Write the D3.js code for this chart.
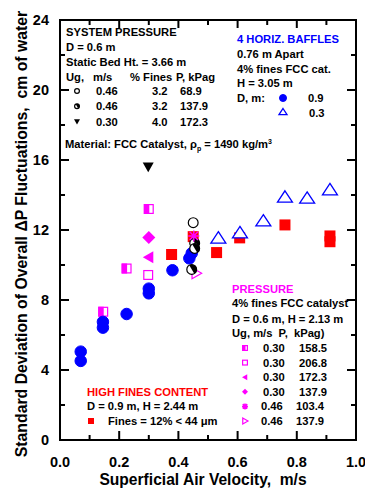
<!DOCTYPE html>
<html><head><meta charset="utf-8">
<script src="https://cdn.jsdelivr.net/npm/d3@7"></script>
<style>
html,body{margin:0;padding:0;background:#fff;}
svg text{font-family:Arial,"Liberation Sans",sans-serif;font-weight:bold;white-space:pre;}
</style></head>
<body><svg id="c" width="365" height="492"></svg>
<script>
// ---- data ----
const xTicks = [0.0, 0.2, 0.4, 0.6, 0.8, 1.0];
const xTickLabels = ["0.0", "0.2", "0.4", "0.6", "0.8", "1.0"];
const yTicks = [0, 4, 8, 12, 16, 20, 24];
const yTickLabels = ["0", "4", "8", "12", "16", "20", "24"];

// 4 horizontal baffles, D = 0.9 m (filled blue circles)
const baffleD09 = [[0.07,5.05],[0.07,4.52],[0.145,6.75],[0.145,6.42],[0.225,7.2],[0.30,8.65],[0.30,8.38],[0.38,9.7],[0.437,10.38],[0.445,10.67]];
// 4 horizontal baffles, D = 0.3 m (open blue triangles)
const baffleD03 = [[0.535,11.53],[0.608,11.83],[0.687,12.51],[0.76,13.87],[0.835,13.81],[0.912,14.29]];
// High fines content (red squares)
const highFines = [[0.377,10.6],[0.45,11.62],[0.529,10.71],[0.607,11.55],[0.76,12.29],[0.912,11.66],[0.912,11.33]];
// System pressure
const sysP689 = [[0.45,12.42]];
const sysP1379 = [[0.455,11.25],[0.455,10.95],[0.445,9.75]];
const sysP1723 = [[0.298,15.62]];
// Pressure series (magenta)
const pr1585 = [[0.146,7.33],[0.225,9.8],[0.30,13.2]];
const pr2068 = [[0.298,9.43]];
const pr1723 = [[0.30,10.44]];
const pr1379 = [[0.30,11.57]];
const pr1034 = [[0.452,11.66]];
const pr1379b = [[0.46,9.53]];

const BLUE = "#0000ff", RED = "#ff0000", MAG = "#ff00ff", BLK = "#000";

// ---- layout ----
const L = 60, R = 356, T = 20, B = 440;
const svg = d3.select("#c");
const x = d3.scaleLinear().domain([0, 1]).range([L, R]);
const y = d3.scaleLinear().domain([0, 24]).range([B, T]);

// minor ticks
const xMinor = d3.range(0.1, 1.0, 0.2);
const yMinor = d3.range(2, 24, 4);
const g = svg.append("g");
function ticks(arr, scale, orient, len){
  arr.forEach(v=>{
    const p = scale(v);
    if(orient==="b") g.append("line").attr("x1",p).attr("x2",p).attr("y1",B).attr("y2",B-len);
    if(orient==="t") g.append("line").attr("x1",p).attr("x2",p).attr("y1",T).attr("y2",T+len);
    if(orient==="l") g.append("line").attr("y1",p).attr("y2",p).attr("x1",L).attr("x2",L+len);
    if(orient==="r") g.append("line").attr("y1",p).attr("y2",p).attr("x1",R).attr("x2",R-len);
  });
}
ticks(xTicks, x, "b", 9); ticks(xMinor, x, "b", 5);
ticks(xTicks, x, "t", 8); ticks(xMinor, x, "t", 5);
ticks(yTicks, y, "l", 9); ticks(yMinor, y, "l", 5);
ticks(yTicks, y, "r", 9); ticks(yMinor, y, "r", 5);
g.selectAll("line").attr("stroke","#000").attr("stroke-width",2);
svg.append("rect").attr("x",L).attr("y",T).attr("width",R-L).attr("height",B-T)
  .attr("fill","none").attr("stroke","#000").attr("stroke-width",2);

// tick labels
svg.selectAll(".xl").data(xTicks).enter().append("text")
  .attr("x",d=>x(d)).attr("y",467).attr("text-anchor","middle")
  .attr("font-size",14.5).text((d,i)=>xTickLabels[i]);
svg.selectAll(".yl").data(yTicks).enter().append("text")
  .attr("x",49).attr("y",d=>y(d)+5).attr("text-anchor","end")
  .attr("font-size",14.5).text((d,i)=>yTickLabels[i]);

// axis titles
svg.append("text").attr("x",203).attr("y",485).attr("text-anchor","middle")
  .attr("font-size",15.6).text("Superficial Air Velocity,  m/s");
svg.append("text").attr("transform","translate(27,234) rotate(-90)").attr("text-anchor","middle")
  .attr("font-size",15.8).text("Standard Deviation of Overall \u0394P Fluctuations,  cm of water");

// ---- marker drawing ----
function marker(sel, type, color, s){
  const h = s/2;
  if(type==="circle"){ sel.append("circle").attr("r",h).attr("fill",color).attr("stroke",color).attr("stroke-width",1); }
  else if(type==="ocircle"){ sel.append("circle").attr("r",h-0.6).attr("fill","#fff").attr("stroke",color).attr("stroke-width",1.2); }
  else if(type==="hcircle"){
    sel.append("circle").attr("r",h-0.6).attr("fill","#fff").attr("stroke",color).attr("stroke-width",1.2);
    sel.append("path").attr("d",`M0,${-(h-0.6)} A${h-0.6},${h-0.6} 0 0 1 0,${h-0.6} Z`).attr("fill",color).attr("transform","rotate(-30)");
  }
  else if(type==="otri"){ sel.append("path").attr("d",`M0,${-h} L${h*1.15},${h*0.75} L${-h*1.15},${h*0.75} Z`).attr("fill","#fff").attr("stroke",color).attr("stroke-width",1.3); }
  else if(type==="dtri"){ sel.append("path").attr("d",`M0,${h} L${h},${-h*0.75} L${-h},${-h*0.75} Z`).attr("fill",color); }
  else if(type==="square"){ sel.append("rect").attr("x",-h).attr("y",-h).attr("width",s).attr("height",s).attr("fill",color); }
  else if(type==="osquare"){ sel.append("rect").attr("x",-h+0.6).attr("y",-h+0.6).attr("width",s-1.2).attr("height",s-1.2).attr("fill","#fff").attr("stroke",color).attr("stroke-width",1.2); }
  else if(type==="hsquare"){
    sel.append("rect").attr("x",-h+0.6).attr("y",-h+0.6).attr("width",s-1.2).attr("height",s-1.2).attr("fill","#fff").attr("stroke",color).attr("stroke-width",1.2);
    sel.append("rect").attr("x",-h).attr("y",-h).attr("width",h+0.5).attr("height",s).attr("fill",color);
  }
  else if(type==="ltri"){ sel.append("path").attr("d",`M${-h},0 L${h*0.75},${-h} L${h*0.75},${h} Z`).attr("fill",color); }
  else if(type==="rtri"){ sel.append("path").attr("d",`M${h},0 L${-h*0.75},${-h} L${-h*0.75},${h} Z`).attr("fill","#fff").attr("stroke",color).attr("stroke-width",1.2); }
  else if(type==="diamond"){ sel.append("path").attr("d",`M0,${-h} L${h},0 L0,${h} L${-h},0 Z`).attr("fill",color); }
  else if(type==="star"){
    sel.append("path").attr("d",`M${-h},0 L${h},0 M0,${-h} L0,${h} M${-h*0.75},${-h*0.75} L${h*0.75},${h*0.75} M${-h*0.75},${h*0.75} L${h*0.75},${-h*0.75}`)
      .attr("stroke",color).attr("stroke-width",1.5).attr("fill","none");
  }
}
function series(data, type, color, s){
  svg.append("g").selectAll("g").data(data).enter().append("g")
    .attr("transform",d=>`translate(${x(d[0])},${y(d[1])})`)
    .each(function(){ marker(d3.select(this), type, color, s); });
}
series(highFines, "square", RED, 11);
series(baffleD03, "otri", BLUE, 13);
series(pr1585, "hsquare", MAG, 10);
series(pr2068, "osquare", MAG, 10);
series(pr1723, "ltri", MAG, 12);
series(pr1379, "diamond", MAG, 13);
series(pr1379b, "rtri", MAG, 11);
series(baffleD09, "circle", BLUE, 11.5);
series(sysP1379, "hcircle", BLK, 11);
series(sysP689, "ocircle", BLK, 11);
series(sysP1723, "dtri", BLK, 11);
series(pr1034, "star", MAG, 11);

// ---- legends ----
const LF = 11.2;
function txt(xp, yp, s, color, anchor){
  return svg.append("text").attr("x",xp).attr("y",yp).attr("font-size",LF)
    .attr("fill",color||BLK).attr("text-anchor",anchor||"start").text(s);
}
function legMark(xp, yp, type, color, s){
  const gg = svg.append("g").attr("transform",`translate(${xp},${yp})`);
  marker(gg, type, color, s);
}
// system pressure
txt(66,36,"SYSTEM PRESSURE");
txt(66,51,"D = 0.6 m");
txt(66,66,"Static Bed Ht. = 3.66 m");
txt(66,81,"Ug,");
txt(93,81,"m/s");
txt(130,81,"% Fines");
txt(176,81,"P, kPag");
const spRows = [["ocircle","0.46","3.2","68.9"],["hcircle","0.46","3.2","137.9"],["dtri","0.30","4.0","172.3"]];
spRows.forEach((r,i)=>{
  const yy = 95 + i*15.3;
  legMark(77, yy-4, r[0], BLK, 6);
  txt(96, yy, r[1]); txt(152, yy, r[2]); txt(180, yy, r[3]);
});
const mat = svg.append("text").attr("x",65).attr("y",148).attr("font-size",LF);
mat.append("tspan").text("Material: FCC Catalyst, ");
mat.append("tspan").text("\u03C1");
mat.append("tspan").attr("font-size",7).attr("dy",3).text("p");
mat.append("tspan").attr("dy",-3).text(" = 1490 kg/m");
mat.append("tspan").attr("font-size",7).attr("dy",-4).text("3");

// baffles
txt(237,43,"4 HORIZ. BAFFLES",BLUE);
txt(237,58,"0.76 m Apart");
txt(237,73,"4% fines FCC cat.");
txt(237,87,"H = 3.05 m");
txt(237,102,"D, m:");
legMark(283,98,"circle",BLUE,7);
txt(308,102,"0.9");
legMark(283,112,"otri",BLUE,7);
txt(309,117,"0.3");

// pressure
txt(232,293,"PRESSURE",MAG);
txt(232,307,"4% fines FCC catalyst");
txt(232,323,"D = 0.6 m, H = 2.13 m");
txt(232,337,"Ug, m/s  P,  kPag)");
const prRows = [["hsquare","0.30","158.5",263,299],["osquare","0.30","206.8",263,299],["ltri","0.30","172.3",263,299],["diamond","0.30","137.9",263,299],["star","0.46","103.4",261,296],["rtri","0.46","137.9",261,296]];
prRows.forEach((r,i)=>{
  const yy = 352 + i*14.6;
  legMark(245, yy-4, r[0], MAG, 6);
  txt(r[3], yy, r[1]); txt(r[4], yy, r[2]);
});

// high fines
txt(87,396,"HIGH FINES CONTENT",RED);
txt(87,410,"D = 0.9 m, H = 2.44 m");
legMark(91,421,"square",RED,6);
txt(108,425,"Fines = 12% < 44 \u03BCm");
</script></body></html>
